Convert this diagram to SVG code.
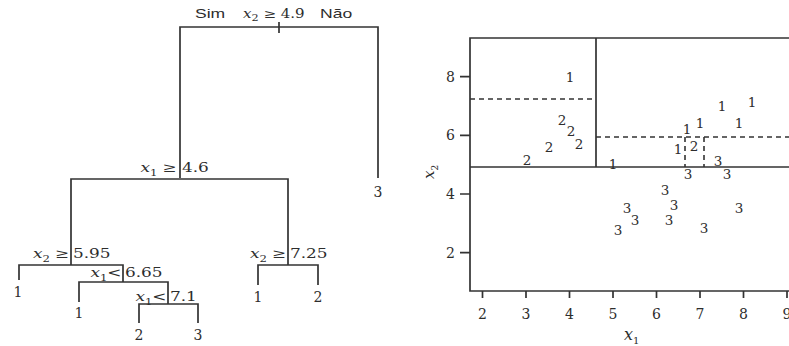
<svg xmlns="http://www.w3.org/2000/svg" width="789" height="346" viewBox="0 0 789 346">
<style>
.ln{stroke:#333;stroke-width:1.7;fill:none}
.ds{stroke:#333;stroke-width:1.6;fill:none;stroke-dasharray:5 4}
.s{font-family:"DejaVu Serif","Liberation Serif",serif;font-size:13px;fill:#2d2d2d}
.r{font-family:"DejaVu Serif","Liberation Serif",serif;font-size:12px;fill:#2d2d2d}
.ss{font-family:"Liberation Sans",Arial,sans-serif;font-size:13px;fill:#2d2d2d}
.lf{font-family:"DejaVu Serif","Liberation Serif",serif;font-size:14px;fill:#2d2d2d;text-anchor:middle}
.pt{font-family:"DejaVu Serif","Liberation Serif",serif;font-size:13.5px;fill:#2d2d2d;text-anchor:middle}
.e{text-anchor:end}
.it{font-style:italic}
.sub{font-size:9px}
</style>
<rect width="789" height="346" fill="#fff"/>
<g id="connectors">
<path class="ln" d="M180,178 V27 H378 V178"/>
<path class="ln" d="M279,22 V33"/>
<path class="ln" d="M71,265 V179 H288 V265"/>
<path class="ln" d="M19,280 V265 H123 V282"/>
<path class="ln" d="M79,302 V282 H168 V304"/>
<path class="ln" d="M139,323 V304 H198 V323"/>
<path class="ln" d="M258,285 V265 H318 V285"/>
</g>
<g id="root">
<text class="ss" transform="translate(195,18) scale(1.35,1)">Sim</text>
<text class="r" transform="translate(243,18) scale(1.25,1)"><tspan class="it">x</tspan><tspan class="sub" dy="3">2</tspan><tspan dy="-3"> ≥ 4.9</tspan></text>
<text class="ss" transform="translate(320,18) scale(1.35,1)">Não</text>
</g>
<g id="n_x1_46">
<text class="s e" transform="translate(177,172) scale(1.3,1)"><tspan class="it">x</tspan><tspan class="sub" dy="4">1</tspan><tspan dy="-4"> ≥</tspan></text>
<text class="s" transform="translate(182,172) scale(1.3,1)">4.6</text>
</g>
<g id="n_x2_595">
<text class="s e" transform="translate(69.5,258) scale(1.3,1)"><tspan class="it">x</tspan><tspan class="sub" dy="4">2</tspan><tspan dy="-4"> ≥</tspan></text>
<text class="s" transform="translate(73,258) scale(1.3,1)">5.95</text>
</g>
<g id="n_x1_665">
<text class="s e" transform="translate(121.5,277) scale(1.3,1)"><tspan class="it">x</tspan><tspan class="sub" dy="4">1</tspan><tspan dy="-4">&lt;</tspan></text>
<text class="s" transform="translate(125,277) scale(1.3,1)">6.65</text>
</g>
<g id="n_x1_71">
<text class="s e" transform="translate(166.5,301) scale(1.3,1)"><tspan class="it">x</tspan><tspan class="sub" dy="4">1</tspan><tspan dy="-4">&lt;</tspan></text>
<text class="s" transform="translate(170,301) scale(1.3,1)">7.1</text>
</g>
<g id="n_x2_725">
<text class="s e" transform="translate(286.5,258) scale(1.3,1)"><tspan class="it">x</tspan><tspan class="sub" dy="4">2</tspan><tspan dy="-4"> ≥</tspan></text>
<text class="s" transform="translate(290,258) scale(1.3,1)">7.25</text>
</g>
<g id="leaves">
<text class="lf" x="378" y="197">3</text>
<text class="lf" x="18" y="297">1</text>
<text class="lf" x="79" y="318">1</text>
<text class="lf" x="139" y="340">2</text>
<text class="lf" x="198" y="340">3</text>
<text class="lf" x="258" y="302">1</text>
<text class="lf" x="318" y="302">2</text>
</g>
<g id="plot">
<path class="ln" d="M789,38 H470 V291 H789"/>
<path class="ln" d="M470,167 H789 M596,38 V167"/>
<path class="ds" d="M470,99 H596 M596,137 H789 M685,137 V167 M704,137 V167"/>
<path class="ln" d="M482.5,291 V298 M526,291 V298 M569.5,291 V298 M613,291 V298 M656.5,291 V298 M700,291 V298 M743.5,291 V298 M787,291 V298"/>
<path class="ln" d="M460,76.7 H470 M460,135.3 H470 M460,194 H470 M460,252.7 H470"/>
<g class="lf">
<text x="482.5" y="319">2</text><text x="526" y="319">3</text><text x="569.5" y="319">4</text><text x="613" y="319">5</text><text x="656.5" y="319">6</text><text x="700" y="319">7</text><text x="743.5" y="319">8</text><text x="787" y="319">9</text>
</g>
<g class="s" style="font-size:14px;text-anchor:end">
<text x="455" y="81.5">8</text><text x="455" y="140">6</text><text x="455" y="199">4</text><text x="455" y="257.5">2</text>
</g>
<text class="s" x="624" y="340" style="font-size:16px"><tspan class="it">x</tspan><tspan class="sub" style="font-size:10px" dy="4">1</tspan></text>
<text class="s" transform="translate(434,179) rotate(-90)" style="font-size:15px"><tspan class="it">x</tspan><tspan class="sub" dy="4">2</tspan></text>
<g class="pt">
<text x="570" y="82">1</text>
<text x="562" y="125">2</text>
<text x="571" y="136">2</text>
<text x="579" y="149">2</text>
<text x="549" y="152">2</text>
<text x="527" y="165">2</text>
<text x="613" y="169">1</text>
<text x="722" y="111">1</text>
<text x="752" y="107">1</text>
<text x="700" y="128">1</text>
<text x="739" y="128">1</text>
<text x="687" y="134">1</text>
<text x="678" y="154">1</text>
<text x="694" y="151">2</text>
<text x="718" y="166">3</text>
<text x="688" y="179">3</text>
<text x="727" y="179">3</text>
<text x="665" y="195">3</text>
<text x="627" y="213">3</text>
<text x="674" y="210">3</text>
<text x="635" y="225">3</text>
<text x="669" y="225">3</text>
<text x="618" y="235">3</text>
<text x="704" y="233">3</text>
<text x="739" y="213">3</text>
</g>
</g>
</svg>
